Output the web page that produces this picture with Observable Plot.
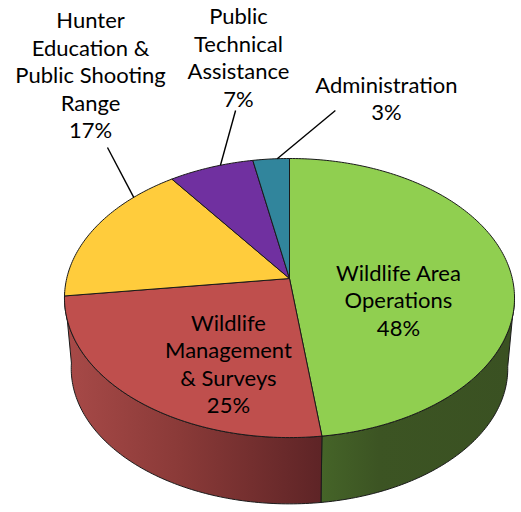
<!DOCTYPE html>
<html>
<head>
<meta charset="utf-8">
<style>html,body{margin:0;padding:0;background:#fff}svg{display:block}</style>
<script src="https://cdn.jsdelivr.net/npm/d3@7"></script>
<script src="https://cdn.jsdelivr.net/npm/@observablehq/plot@0.6"></script>
</head>
<body>
<div id="chart"></div>
<script>
const categories = ["Wildlife Area\nOperations", "Wildlife\nManagement\n& Surveys", "Hunter\nEducation &\nPublic Shooting\nRange", "Public\nTechnical\nAssistance", "Administration"];
const shares = [48, 25, 17, 7, 3];
const topColors = ["#90CF50", "#BF4F4D", "#FFCC3C", "#7030A0", "#31859C"];

// label layout, in pie-radius units from the pie centre
const labelX = [0.489, -0.274, -0.893, -0.229, 0.435];
const labelY = [0.095, 0.381, -0.916, -0.996, -0.812];
const leaderShare = [null, null, 86.2, 94.3, 99];
const leaderEndX = [null, null, -0.817, -0.242, 0.206];
const leaderEndY = [null, null, -0.588, -0.754, -0.754];

// perspective of the tilted disc
const persp = 0.14, squash = 0.614, depth = 0.319, shrink = 0.97;
const unit = 222.8, cx = 289, cy = 278, W = 521, H = 512;
const wallStart = 27, wallEnd = 73.4;

const rim = (share) => {
  const t = share / 100 * 2 * Math.PI, d = 1 + persp * Math.cos(t);
  return {x: Math.sin(t) / d, y: -squash * Math.cos(t) / d};
};
const floor = (share) => {
  const p = rim(share);
  return {x: p.x * shrink, y: p.y * shrink + depth};
};
const arc = (a, b, f) => {
  const n = Math.max(2, Math.ceil((b - a) * 4)), out = [];
  for (let i = 0; i <= n; ++i) out.push(f(a + (b - a) * i / n));
  return out;
};

const starts = shares.map((_, i) => d3.sum(shares.slice(0, i)));
const ends = shares.map((s, i) => starts[i] + s);

const slices = shares.map((s, i) => [{x: 0, y: 0}, ...arc(starts[i], ends[i], rim), {x: 0, y: 0}]);
const wall = (a, b) => {
  const top = arc(a, b, rim), bottom = arc(a, b, floor).reverse();
  return [...top, ...bottom, top[0]];
};

const defs = () => {
  const g = document.createElementNS("http://www.w3.org/2000/svg", "g");
  g.innerHTML = `<defs>
    <linearGradient id="wallGreen" x1="0" x2="1" y1="0" y2="0">
      <stop offset="0" stop-color="#456428"/><stop offset="0.3" stop-color="#3c5423"/><stop offset="1" stop-color="#3a5122"/>
    </linearGradient>
    <linearGradient id="wallRed" x1="0" x2="1" y1="0" y2="0">
      <stop offset="0" stop-color="#a84a48"/><stop offset="0.45" stop-color="#8a3a38"/><stop offset="1" stop-color="#5e2426"/>
    </linearGradient></defs>`;
  return g;
};

const edge = {stroke: "#1a1a1a", strokeWidth: 1, strokeLinejoin: "round", curve: "linear"};

const leaders = leaderShare.map((s, i) => s == null ? null : {
  ...rim(s), x2: leaderEndX[i], y2: leaderEndY[i]
}).filter(Boolean);

const labels = categories.map((c, i) => ({
  text: `${c}\n${shares[i]}%`, x: labelX[i], y: labelY[i]
}));

const chart = Plot.plot({
  width: W, height: H,
  margin: 0,
  style: {background: "#fff", color: "#000"},
  x: {domain: [-cx / unit, (W - cx) / unit], range: [0, W], axis: null},
  y: {domain: [-cy / unit, (H - cy) / unit], range: [0, H], axis: null},
  marks: [
    defs,
    Plot.line(wall(wallStart, shares[0]), {x: "x", y: "y", fill: "url(#wallGreen)", ...edge}),
    Plot.line(wall(shares[0], wallEnd), {x: "x", y: "y", fill: "url(#wallRed)", ...edge}),
    ...slices.map((pts, i) => Plot.line(pts, {x: "x", y: "y", fill: topColors[i], ...edge})),
    Plot.link(leaders, {x1: "x", y1: "y", x2: "x2", y2: "y2", stroke: "#000", strokeWidth: 1.4}),
    Plot.text(labels, {
      x: "x", y: "y", text: "text",
      fontFamily: "Lato", fontSize: 22, lineHeight: 1.25,
      lineAnchor: "middle", textAnchor: "middle", fill: "#000"
    })
  ]
});
document.getElementById("chart").append(chart);
</script>
</body>
</html>
